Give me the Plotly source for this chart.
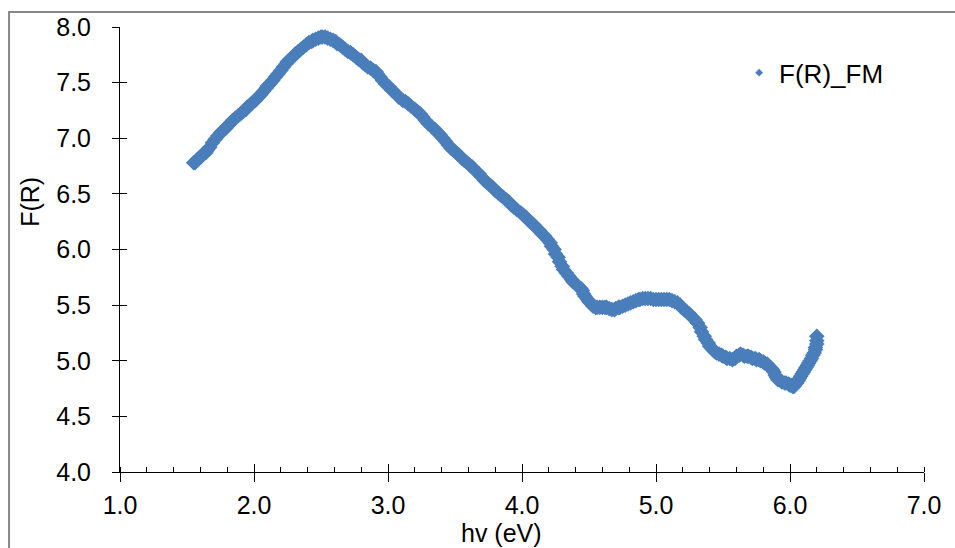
import plotly.graph_objects as go

# Photon energy (eV) and Kubelka-Munk function F(R)
hv = [1.55, 1.56, 1.57, 1.58, 1.60, 1.61, 1.62, 1.64, 1.65, 1.67, 1.69, 1.71, 1.73, 1.75,
      1.77, 1.79, 1.80, 1.82, 1.84, 1.86, 1.88, 1.90, 1.92, 1.94, 1.95, 1.97, 1.99, 2.01,
      2.03, 2.05, 2.07, 2.09, 2.10, 2.12, 2.14, 2.16, 2.18, 2.20, 2.22, 2.24, 2.25, 2.27,
      2.29, 2.31, 2.33, 2.35, 2.37, 2.39, 2.41, 2.43, 2.44, 2.46, 2.48, 2.50, 2.51, 2.53,
      2.55, 2.57, 2.59, 2.61, 2.62, 2.64, 2.66, 2.68, 2.70, 2.72, 2.74, 2.76, 2.78, 2.80,
      2.81, 2.83, 2.85, 2.87, 2.89, 2.91, 2.92, 2.94, 2.96, 2.98, 3.01, 3.03, 3.06, 3.08,
      3.11, 3.13, 3.15, 3.17, 3.20, 3.22, 3.24, 3.26, 3.28, 3.30, 3.33, 3.35, 3.37, 3.39,
      3.41, 3.43, 3.45, 3.47, 3.49, 3.51, 3.53, 3.55, 3.57, 3.59, 3.61, 3.63, 3.65, 3.68,
      3.70, 3.72, 3.74, 3.76, 3.78, 3.80, 3.82, 3.84, 3.86, 3.88, 3.90, 3.92, 3.94, 3.96,
      3.99, 4.01, 4.03, 4.05, 4.07, 4.09, 4.11, 4.13, 4.15, 4.17, 4.19, 4.21, 4.22, 4.24,
      4.25, 4.27, 4.28, 4.30, 4.31, 4.33, 4.35, 4.37, 4.38, 4.40, 4.42, 4.44, 4.45, 4.46,
      4.47, 4.49, 4.50, 4.52, 4.53, 4.55, 4.56, 4.58, 4.60, 4.62, 4.63, 4.65, 4.67, 4.69,
      4.70, 4.72, 4.73, 4.75, 4.77, 4.79, 4.81, 4.83, 4.85, 4.87, 4.88, 4.90, 4.92, 4.94,
      4.96, 4.98, 5.00, 5.02, 5.04, 5.06, 5.08, 5.10, 5.12, 5.14, 5.16, 5.18, 5.19, 5.21,
      5.23, 5.25, 5.27, 5.29, 5.31, 5.33, 5.34, 5.36, 5.37, 5.39, 5.40, 5.42, 5.43, 5.45,
      5.47, 5.49, 5.50, 5.52, 5.53, 5.55, 5.57, 5.59, 5.60, 5.62, 5.63, 5.65, 5.66, 5.68,
      5.69, 5.71, 5.72, 5.74, 5.75, 5.77, 5.78, 5.80, 5.81, 5.83, 5.84, 5.86, 5.87, 5.88,
      5.89, 5.90, 5.91, 5.93, 5.94, 5.96, 5.97, 5.99, 6.00, 6.01, 6.02, 6.03, 6.04, 6.05,
      6.06, 6.07, 6.08, 6.09, 6.10, 6.11, 6.12, 6.13, 6.14, 6.15, 6.16, 6.17, 6.18, 6.19,
      6.19, 6.20, 6.20, 6.20]
fr = [6.78, 6.78, 6.80, 6.81, 6.83, 6.84, 6.86, 6.87, 6.89, 6.92, 6.96, 6.99, 7.02, 7.05,
      7.07, 7.09, 7.11, 7.13, 7.16, 7.18, 7.20, 7.22, 7.24, 7.26, 7.28, 7.30, 7.32, 7.34,
      7.37, 7.39, 7.42, 7.45, 7.47, 7.49, 7.52, 7.55, 7.58, 7.61, 7.64, 7.67, 7.69, 7.71,
      7.73, 7.76, 7.78, 7.80, 7.82, 7.84, 7.86, 7.87, 7.88, 7.89, 7.90, 7.91, 7.91, 7.91,
      7.90, 7.89, 7.88, 7.87, 7.85, 7.84, 7.82, 7.80, 7.78, 7.77, 7.75, 7.73, 7.71, 7.70,
      7.68, 7.66, 7.64, 7.63, 7.61, 7.60, 7.58, 7.55, 7.52, 7.49, 7.46, 7.43, 7.40, 7.37,
      7.34, 7.33, 7.31, 7.29, 7.26, 7.24, 7.22, 7.19, 7.16, 7.13, 7.10, 7.08, 7.05, 7.03,
      7.00, 6.97, 6.94, 6.91, 6.89, 6.87, 6.85, 6.82, 6.80, 6.78, 6.76, 6.74, 6.71, 6.68,
      6.65, 6.62, 6.60, 6.58, 6.56, 6.53, 6.51, 6.49, 6.47, 6.45, 6.43, 6.40, 6.38, 6.36,
      6.33, 6.31, 6.29, 6.26, 6.24, 6.22, 6.19, 6.17, 6.14, 6.12, 6.09, 6.06, 6.03, 6.00,
      5.96, 5.93, 5.89, 5.85, 5.82, 5.79, 5.76, 5.73, 5.71, 5.69, 5.67, 5.65, 5.63, 5.60,
      5.58, 5.55, 5.53, 5.51, 5.49, 5.48, 5.48, 5.48, 5.48, 5.48, 5.48, 5.47, 5.46, 5.46,
      5.47, 5.48, 5.48, 5.49, 5.50, 5.51, 5.52, 5.53, 5.54, 5.55, 5.55, 5.56, 5.56, 5.56,
      5.56, 5.55, 5.55, 5.55, 5.55, 5.55, 5.55, 5.55, 5.54, 5.53, 5.52, 5.50, 5.48, 5.46,
      5.44, 5.42, 5.39, 5.37, 5.34, 5.30, 5.26, 5.22, 5.19, 5.16, 5.13, 5.11, 5.09, 5.07,
      5.06, 5.05, 5.04, 5.03, 5.02, 5.02, 5.01, 5.02, 5.04, 5.05, 5.06, 5.05, 5.04, 5.04,
      5.04, 5.03, 5.02, 5.02, 5.01, 5.01, 5.00, 4.99, 4.98, 4.97, 4.95, 4.93, 4.92, 4.90,
      4.87, 4.85, 4.83, 4.82, 4.81, 4.80, 4.80, 4.79, 4.78, 4.78, 4.77, 4.77, 4.79, 4.80,
      4.82, 4.84, 4.86, 4.88, 4.90, 4.92, 4.94, 4.96, 4.98, 5.00, 5.02, 5.05, 5.07, 5.10,
      5.12, 5.15, 5.18, 5.22]

x_ticks = [1.0, 2.0, 3.0, 4.0, 5.0, 6.0, 7.0]
y_ticks = [4.0, 4.5, 5.0, 5.5, 6.0, 6.5, 7.0, 7.5, 8.0]

BLUE = "#4A7EBB"
FONT = "Liberation Sans, Arial, sans-serif"
AXIS = "#000000"

fig = go.Figure()

fig.add_trace(go.Scatter(
    x=hv, y=fr, mode="markers", showlegend=False,
    marker=dict(symbol="diamond", size=12, color=BLUE, line=dict(width=0)),
))
# small legend glyph
fig.add_trace(go.Scatter(
    x=[None], y=[None], mode="markers", name="F(R)_FM",
    marker=dict(symbol="diamond", size=6, color=BLUE),
))
# companion axes used only to draw the inner half of the crossing major ticks
fig.add_trace(go.Scatter(x=[None], y=[None], xaxis="x2", yaxis="y2",
                         showlegend=False, hoverinfo="skip"))

common = dict(showgrid=False, zeroline=False, linecolor=AXIS, tickcolor=AXIS,
              tickfont=dict(family=FONT, size=25, color="#000000"))

fig.update_layout(
    width=955, height=548,
    margin=dict(l=120, r=31, t=27, b=76),
    paper_bgcolor="white", plot_bgcolor="white",
    font=dict(family=FONT, size=25, color="#000000"),
    xaxis=dict(range=[1.0, 7.0], tickvals=x_ticks,
               ticktext=[f"{v:.1f}" for v in x_ticks],
               showline=True, linewidth=1, ticks="outside", ticklen=9, tickwidth=1,
               ticklabelstandoff=2,
               minor=dict(ticks="inside", dtick=0.2, tick0=1.0, ticklen=5,
                          tickcolor=AXIS, tickwidth=1),
               **common),
    yaxis=dict(range=[4.0, 8.0], tickvals=y_ticks,
               ticktext=[f"{v:.1f}" for v in y_ticks],
               showline=True, linewidth=1, ticks="outside", ticklen=7, tickwidth=1,
               ticklabelstandoff=16, **common),
    xaxis2=dict(range=[1.0, 7.0], overlaying="x", anchor="y2", tickvals=x_ticks,
                showticklabels=False, showline=False, ticks="inside", ticklen=8,
                tickwidth=1, showgrid=False, zeroline=False, tickcolor=AXIS),
    yaxis2=dict(range=[4.0, 8.0], overlaying="y", anchor="x2", tickvals=y_ticks,
                showticklabels=False, showline=False, ticks="inside", ticklen=7,
                tickwidth=1, showgrid=False, zeroline=False, tickcolor=AXIS),
    legend=dict(x=0.77, y=0.95, xanchor="left", yanchor="top",
                bgcolor="rgba(0,0,0,0)", font=dict(family=FONT, size=26),
                itemwidth=30, tracegroupgap=0),
    showlegend=True,
    annotations=[
        dict(text="F(R)", xref="paper", yref="paper", x=-0.112, y=0.607,
             textangle=-90, showarrow=False, font=dict(family=FONT, size=25),
             xanchor="center", yanchor="middle"),
        dict(text="hv (eV)", xref="paper", yref="paper", x=0.474, y=-0.137,
             showarrow=False, font=dict(family=FONT, size=25),
             xanchor="center", yanchor="middle"),
    ],
    shapes=[
        dict(type="rect", xref="paper", yref="paper", x0=-0.138, x1=1.2,
             y0=-0.3, y1=1.0337, line=dict(color="#888888", width=2),
             fillcolor="rgba(0,0,0,0)", layer="below"),
    ],
)

fig.write_html("out.html")
